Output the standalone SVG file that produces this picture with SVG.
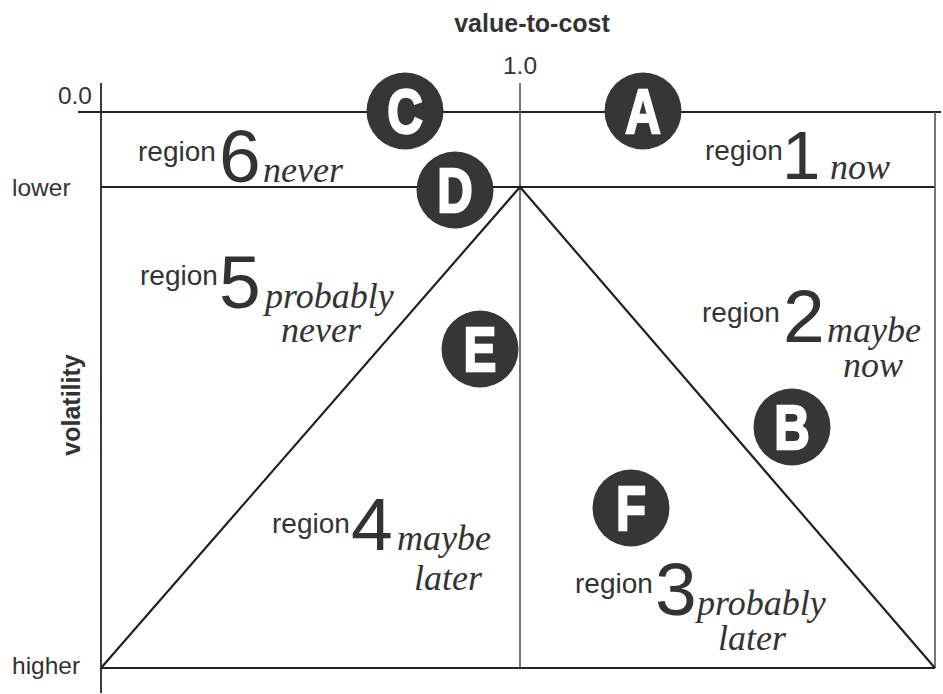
<svg xmlns="http://www.w3.org/2000/svg" width="943" height="694" viewBox="0 0 943 694">
  <style>
    .axis { stroke: #3a3a3a; stroke-width: 2; fill: none; }
    .grid { stroke: #222; stroke-width: 2.2; fill: none; }
    .thin { stroke: #555; stroke-width: 1.6; fill: none; }
    .lbl { font-family: "Liberation Sans", Arial, sans-serif; font-size: 24.5px; fill: #333; }
    .title { font-family: "Liberation Sans", Arial, sans-serif; font-size: 25px; font-weight: bold; fill: #333; }
    .rg { font-family: "Liberation Sans", Arial, sans-serif; font-size: 28px; fill: #333; }
    .num { font-family: "Liberation Sans", Arial, sans-serif; font-size: 75px; fill: #333; }
    .it { font-family: "Liberation Serif", "Times New Roman", serif; font-style: italic; font-size: 36px; fill: #333; }
    .dot { fill: #363636; }
    .let { font-family: "Liberation Sans", Arial, sans-serif; font-weight: bold; font-size: 63px; fill: #fff; stroke: #fff; stroke-width: 2.4; text-anchor: middle; }
  </style>

  <!-- axis titles and tick labels -->
  <text class="title" x="532" y="32" text-anchor="middle">value-to-cost</text>
  <text class="title" transform="translate(80,405) rotate(-90)" text-anchor="middle">volatility</text>
  <text class="lbl" x="520" y="74" text-anchor="middle">1.0</text>
  <text class="lbl" x="92" y="104" text-anchor="end">0.0</text>
  <text class="lbl" x="12" y="196">lower</text>
  <text class="lbl" x="12" y="674">higher</text>

  <!-- chart lines -->
  <g id="connectors">
    <line class="axis" x1="101" y1="83" x2="101" y2="693"/>
    <line class="grid" x1="78" y1="112" x2="941" y2="112"/>
    <line class="grid" x1="101" y1="187" x2="935" y2="187"/>
    <line class="grid" x1="101" y1="668" x2="935" y2="668"/>
    <line class="thin" x1="520" y1="83" x2="520" y2="668"/>
    <line class="thin" x1="935" y1="112" x2="935" y2="668" stroke="#888"/>
    <polyline class="grid" points="101,668 520,187 935,668"/>
  </g>

  <!-- region labels -->
  <g id="region6">
    <text class="rg" x="138" y="161">region</text>
    <text class="num" x="219" y="182">6</text>
    <text class="it" x="263" y="182">never</text>
  </g>
  <g id="region1">
    <text class="rg" x="705" y="160">region</text>
    <text class="num" x="782" y="179" style="font-size:69px">1</text>
    <text class="it" x="830" y="179">now</text>
  </g>
  <g id="region5">
    <text class="rg" x="140" y="285">region</text>
    <text class="num" x="219" y="308">5</text>
    <text class="it" x="265" y="308">probably</text>
    <text class="it" x="281" y="342">never</text>
  </g>
  <g id="region2">
    <text class="rg" x="702" y="322">region</text>
    <text class="num" x="783" y="342">2</text>
    <text class="it" x="827" y="342">maybe</text>
    <text class="it" x="843" y="377">now</text>
  </g>
  <g id="region4">
    <text class="rg" x="272" y="533">region</text>
    <text class="num" x="351" y="550">4</text>
    <text class="it" x="397" y="550">maybe</text>
    <text class="it" x="414" y="590">later</text>
  </g>
  <g id="region3">
    <text class="rg" x="575" y="593">region</text>
    <text class="num" x="655" y="615">3</text>
    <text class="it" x="697" y="615">probably</text>
    <text class="it" x="718" y="650">later</text>
  </g>

  <!-- lettered markers -->
  <g id="markerC">
    <circle class="dot" cx="405" cy="111" r="38.5"/>
    <text class="let" transform="translate(405,133) scale(0.78,1)">C</text>
  </g>
  <g id="markerA">
    <circle class="dot" cx="643" cy="111" r="38.5"/>
    <text class="let" transform="translate(643,133) scale(0.78,1)">A</text>
  </g>
  <g id="markerD">
    <circle class="dot" cx="455" cy="190" r="38.5"/>
    <text class="let" transform="translate(455,212) scale(0.78,1)">D</text>
  </g>
  <g id="markerE">
    <circle class="dot" cx="480" cy="349" r="38.5"/>
    <text class="let" transform="translate(480,371) scale(0.78,1)">E</text>
  </g>
  <g id="markerB">
    <circle class="dot" cx="792" cy="427" r="38.5"/>
    <text class="let" transform="translate(792,449) scale(0.78,1)">B</text>
  </g>
  <g id="markerF">
    <circle class="dot" cx="631" cy="508" r="38.5"/>
    <text class="let" transform="translate(631,530) scale(0.78,1)">F</text>
  </g>
</svg>
